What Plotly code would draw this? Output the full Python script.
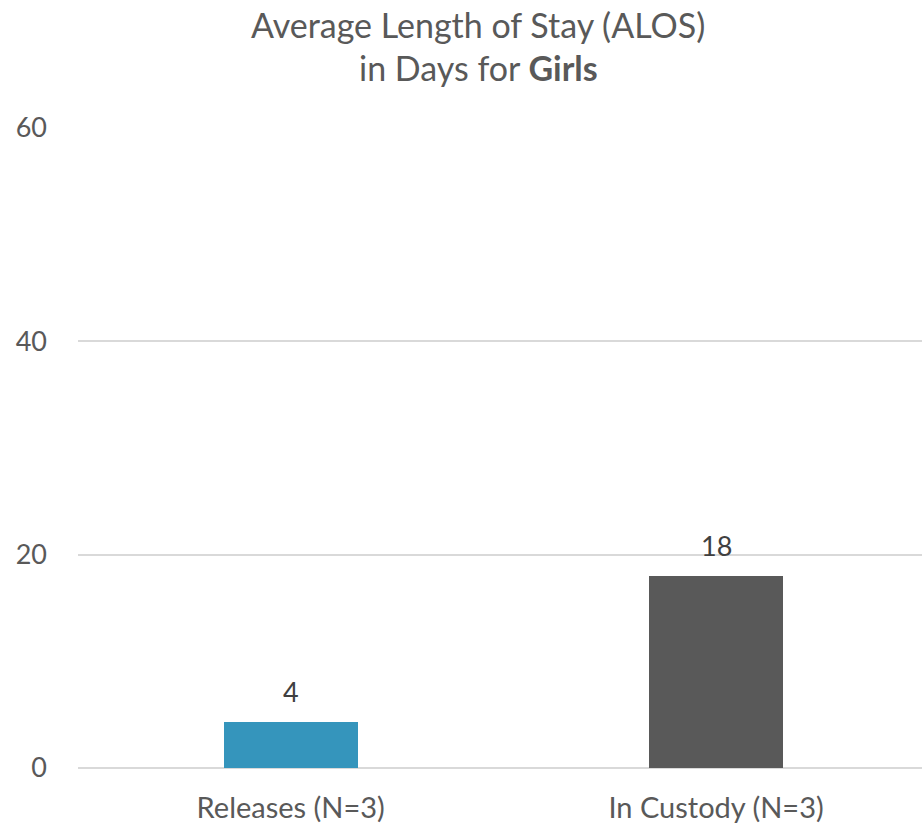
import plotly.graph_objects as go

# Average length of stay (days) for girls
categories = ["Releases (N=3)", "In Custody (N=3)"]
alos_days = [4.3, 18]
bar_colors = ["#3595BC", "#595959"]
y_ticks = [0, 20, 40, 60]
title_lines = ["Average Length of Stay (ALOS)", "in Days for <b>Girls</b>"]

TEXT = "#595959"
FONT = "Lato"

fig = go.Figure(
    go.Bar(
        x=categories,
        y=alos_days,
        marker=dict(color=bar_colors, line=dict(width=0)),
        width=0.315,
        hoverinfo="x+y",
    )
)

# value labels above each bar
for cat, val in zip(categories, alos_days):
    fig.add_annotation(
        x=cat, y=val, xref="x", yref="y",
        text=f"{val:.0f}",
        showarrow=False,
        yanchor="middle",
        yshift=31,
        font=dict(family=FONT, size=27, color="#404040"),
    )

# two-line chart title
for line, ypos in zip(title_lines, [1.162, 1.095]):
    fig.add_annotation(
        x=0.474, y=ypos, xref="paper", yref="paper",
        xanchor="center", yanchor="middle",
        text=line, showarrow=False,
        font=dict(family=FONT, size=34, color=TEXT),
    )

fig.update_layout(
    width=922,
    height=826,
    margin=dict(l=78, r=0, t=128, b=58),
    paper_bgcolor="white",
    plot_bgcolor="white",
    showlegend=False,
    font=dict(family=FONT, size=27, color=TEXT),
    xaxis=dict(
        range=[-0.5, 1.484],
        showgrid=False,
        showline=False,
        zeroline=False,
        ticks="",
        ticklabelstandoff=20,
        tickfont=dict(family=FONT, size=29, color=TEXT),
    ),
    yaxis=dict(
        range=[0, 60],
        tickvals=y_ticks,
        showgrid=True,
        gridcolor="#D9D9D9",
        gridwidth=1.5,
        zeroline=True,
        zerolinecolor="#D9D9D9",
        zerolinewidth=1.5,
        showline=False,
        ticks="",
        ticklabelstandoff=30,
        tickfont=dict(family=FONT, size=27, color=TEXT),
    ),
    bargap=0,
)

fig.write_html("out.html")
